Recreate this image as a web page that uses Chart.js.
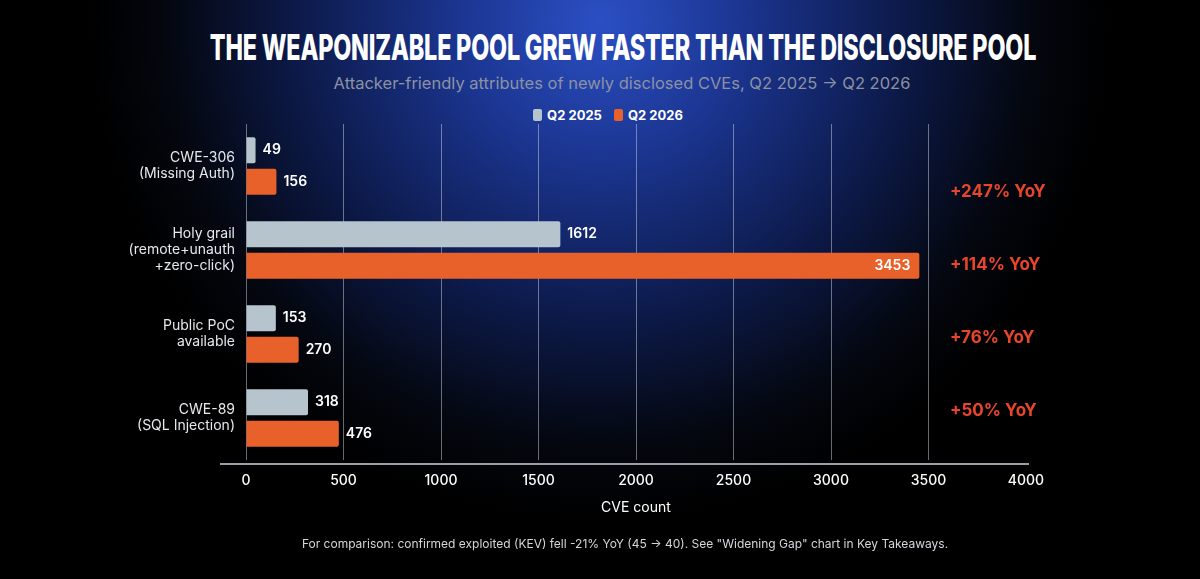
<!DOCTYPE html>
<html>
<head>
<meta charset="utf-8">
<script src="https://cdn.jsdelivr.net/npm/chart.js@4.4.1/dist/chart.umd.min.js"></script>
<style>
    html, body { margin: 0; padding: 0; }
    body {
        width: 1200px; height: 579px; overflow: hidden; position: relative;
        background: #000;
        background-image: radial-gradient(ellipse 510px 500px at 600px 20px, #2b4fc4 0%, #1b3590 28%, #0d1b4d 58%, #04070f 85%, #000 100%);
        font-family: Inter, "Noto Sans", sans-serif;
    }
    #chart { position: absolute; left: 0; top: 0; }
    #titleText {
        position: absolute; top: 30px; left: 623px;
        color: #fff; font-size: 35px; line-height: 35px; font-weight: 800; white-space: nowrap;
        letter-spacing: -0.3px; transform-origin: center;
    }
    .subtitle {
        position: absolute; top: 73px; left: 22px; width: 1200px; text-align: center;
        color: #8c92a4; font-size: 16.5px; line-height: 20px;
    }
    .legend {
        position: absolute; top: 107px; left: 8px; width: 1200px;
        display: flex; justify-content: center; gap: 12px;
        color: #fff; font-size: 13px; font-weight: 700;
    }
    .legend .item { display: flex; align-items: center; gap: 5px; }
    .legend .box { width: 9px; height: 12px; border-radius: 2px; }
    .note {
        position: absolute; top: 536px; left: 25px; width: 1200px; text-align: center;
        color: #d4d6dc; font-size: 12px; line-height: 16px;
    }
</style>
</head>
<body>
<div id="titleText">THE WEAPONIZABLE POOL GREW FASTER THAN THE DISCLOSURE POOL</div>
<div class="subtitle">Attacker-friendly attributes of newly disclosed CVEs, Q2 2025 → Q2 2026</div>
<div class="legend" id="legend"></div>
<canvas id="chart" width="1200" height="579"></canvas>
<div class="note">For comparison: confirmed exploited (KEV) fell -21% YoY (45 → 40). See "Widening Gap" chart in Key Takeaways.</div>

<script>
// chart data
const categories = [
    ['CWE-306', '(Missing Auth)'],
    ['Holy grail', '(remote+unauth', '+zero-click)'],
    ['Public PoC', 'available'],
    ['CWE-89', '(SQL Injection)'],
];
const seriesNames = ['Q2 2025', 'Q2 2026'];
const q2025 = [49, 1612, 153, 318];
const q2026 = [156, 3453, 270, 476];
const yoyLabels = ['+247% YoY', '+114% YoY', '+76% YoY', '+50% YoY'];
const xTicks = [0, 500, 1000, 1500, 2000, 2500, 3000, 3500, 4000];

const COLORS = ['#b5c4cd', '#e8612b'];
const FONT = 'Inter, "Noto Sans", sans-serif';

// squeeze the title to the condensed width of the original
const titleEl = document.getElementById('titleText');
titleEl.style.transform = `translateX(-50%) scaleX(${826 / titleEl.offsetWidth})`;

document.getElementById('legend').innerHTML = seriesNames.map((name, i) => `
    <div class="item"><span class="box" style="background-color: ${COLORS[i]};"></span><span>${name}</span></div>`).join('');

const valueLabels = {
    id: 'valueLabels',
    afterDatasetsDraw(chart) {
        const { ctx, chartArea } = chart;
        ctx.save();
        ctx.font = `600 14px ${FONT}`;
        ctx.fillStyle = '#ffffff';
        ctx.textBaseline = 'middle';
        chart.data.datasets.forEach((ds, di) => {
            chart.getDatasetMeta(di).data.forEach((bar, i) => {
                const v = ds.data[i];
                if (bar.x > chartArea.left + chartArea.width * 0.8) {
                    ctx.textAlign = 'right';
                    ctx.fillText(v, bar.x - 9, bar.y);
                } else {
                    ctx.textAlign = 'left';
                    ctx.fillText(v, bar.x + 7, bar.y);
                }
            });
        });
        ctx.restore();
    }
};

const yoyNotes = {
    id: 'yoyNotes',
    afterDatasetsDraw(chart) {
        const { ctx, scales: { x, y } } = chart;
        ctx.save();
        ctx.font = `700 17px ${FONT}`;
        ctx.fillStyle = '#e8452c';
        ctx.textAlign = 'left';
        ctx.textBaseline = 'middle';
        yoyLabels.forEach((t, i) => {
            ctx.fillText(t, x.getPixelForValue(3610), y.getPixelForValue(0.31 + 0.87 * i));
        });
        ctx.restore();
    }
};

const baseLine = {
    id: 'baseLine',
    afterDraw(chart) {
        const { ctx, chartArea } = chart;
        ctx.save();
        ctx.strokeStyle = '#9b9ea6';
        ctx.lineWidth = 2;
        ctx.beginPath();
        ctx.moveTo(chartArea.left - 26, chartArea.bottom + 4);
        ctx.lineTo(chartArea.right + 3, chartArea.bottom + 4);
        ctx.stroke();
        ctx.restore();
    }
};

new Chart(document.getElementById('chart').getContext('2d'), {
    type: 'bar',
    data: {
        labels: categories,
        datasets: [
            { label: seriesNames[0], data: q2025, backgroundColor: COLORS[0], borderRadius: 2, borderSkipped: 'start' },
            { label: seriesNames[1], data: q2026, backgroundColor: COLORS[1], borderRadius: 2, borderSkipped: 'start' },
        ]
    },
    options: {
        indexAxis: 'y',
        responsive: false, animation: false,
        categoryPercentage: 0.75, barPercentage: 0.83,
        layout: { padding: { top: 124, right: 174, bottom: 49, left: 0 } },
        plugins: { legend: { display: false }, tooltip: { enabled: false } },
        scales: {
            x: {
                min: 0, max: 4000,
                afterBuildTicks: s => { s.ticks = xTicks.map(v => ({ value: v })); },
                afterFit: s => { s.height = 70; },
                ticks: {
                    color: '#ffffff', font: { family: FONT, size: 14, weight: '500' }, padding: 12,
                    callback: v => String(v)
                },
                grid: {
                    color: c => (c.tick && c.tick.value === 4000) ? 'rgba(0,0,0,0)' : 'rgba(205,210,220,0.5)',
                    lineWidth: 1, drawTicks: false
                },
                border: { display: false },
                title: { display: true, text: 'CVE count', color: '#ffffff', font: { family: FONT, size: 14 }, padding: { top: 0, bottom: 14 } }
            },
            y: {
                afterFit: s => { s.width = 246; },
                ticks: { color: '#e6e8ec', font: { family: FONT, size: 14, lineHeight: 1.15 }, padding: 3 },
                grid: { display: false },
                border: { display: false }
            }
        }
    },
    plugins: [valueLabels, yoyNotes, baseLine]
});
</script>
</body>
</html>
